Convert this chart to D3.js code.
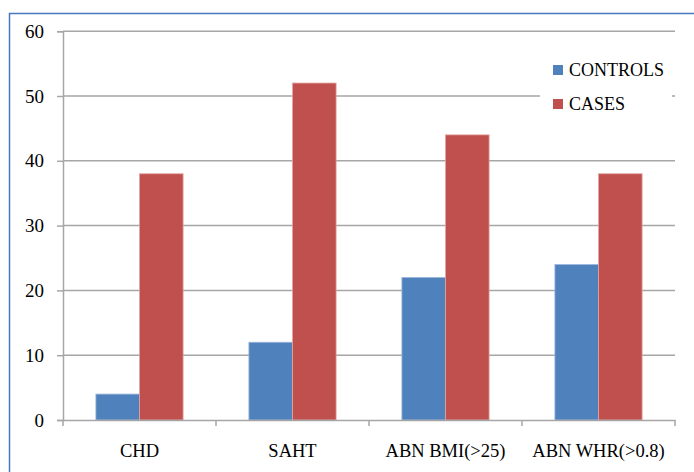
<!DOCTYPE html>
<html>
<head>
<meta charset="utf-8">
<script src="https://cdn.jsdelivr.net/npm/d3@7"></script>
<style>
  html, body { margin: 0; padding: 0; background: #fff; }
  svg { display: block; }
</style>
</head>
<body>
<div id="chart"></div>
<script>
// chart values
var categories = ["CHD", "SAHT", "ABN BMI(>25)", "ABN WHR(>0.8)"];
var seriesNames = ["CONTROLS", "CASES"];
var controls = [4, 12, 22, 24];
var cases = [38, 52, 44, 38];
var yTicks = [0, 10, 20, 30, 40, 50, 60];
var colors = ["#4F81BD", "#C0504D"];

var width = 694, height = 472;
var margin = { left: 63, right: 19, top: 31.2, bottom: 52 };
var font = "'Liberation Serif', 'DejaVu Serif', serif";

var svg = d3.select("#chart").append("svg")
    .attr("width", width)
    .attr("height", height);

// outer frame (runs off the right and bottom edges)
svg.append("rect")
    .attr("x", 9.5).attr("y", 13.5)
    .attr("width", 700).attr("height", 500)
    .attr("fill", "#fff")
    .attr("stroke", "#4A76C0")
    .attr("stroke-width", 1.5);

var x0 = d3.scaleBand()
    .domain(categories)
    .range([margin.left, width - margin.right])
    .paddingInner(0.43)
    .paddingOuter(0.215);

var x1 = d3.scaleBand()
    .domain(seriesNames)
    .range([0, x0.bandwidth()]);

var y = d3.scaleLinear()
    .domain([0, 60])
    .range([height - margin.bottom, margin.top]);

var rows = categories.map(function(c, i) {
    return { cat: c, values: [controls[i], cases[i]] };
});

// gridlines
svg.append("g")
    .selectAll("line")
    .data(yTicks.slice(1))
    .enter().append("line")
    .attr("x1", margin.left)
    .attr("x2", width - margin.right)
    .attr("y1", d => y(d))
    .attr("y2", d => y(d))
    .attr("stroke", "#A6A6A6")
    .attr("stroke-width", 1.5);

// bars
var groups = svg.append("g")
    .selectAll("g")
    .data(rows)
    .enter().append("g")
    .attr("transform", d => "translate(" + x0(d.cat) + ",0)");

groups.selectAll("rect")
    .data(d => d.values.map((v, i) => ({ name: seriesNames[i], value: v, idx: i })))
    .enter().append("rect")
    .attr("x", d => x1(d.name))
    .attr("y", d => y(d.value))
    .attr("width", x1.bandwidth())
    .attr("height", d => y(0) - y(d.value))
    .attr("fill", d => colors[d.idx])
    .attr("stroke", d => d.idx === 0 ? "#9FB8DA" : "#E2A5A3")
    .attr("stroke-width", 0.8);

// y axis
var yAxis = svg.append("g")
    .attr("transform", "translate(" + margin.left + ",0)")
    .call(d3.axisLeft(y).tickValues(yTicks).tickSize(6).tickPadding(13));
yAxis.select(".domain").attr("stroke", "#A6A6A6").attr("stroke-width", 1.5);
yAxis.selectAll(".tick line").attr("stroke", "#A6A6A6").attr("stroke-width", 1.5);
yAxis.selectAll("text")
    .attr("fill", "#000")
    .style("font-family", font)
    .style("font-size", "19px");

// x axis
var xAxis = svg.append("g")
    .attr("transform", "translate(0," + y(0) + ")")
    .call(d3.axisBottom(x0).tickSize(0).tickPadding(24));
xAxis.select(".domain").attr("stroke", "#A6A6A6").attr("stroke-width", 1.5);
xAxis.selectAll("text")
    .attr("fill", "#000")
    .style("font-family", font)
    .style("font-size", "18.5px");

// category boundary ticks
var step = x0.step();
svg.append("g")
    .selectAll("line")
    .data(d3.range(categories.length + 1))
    .enter().append("line")
    .attr("x1", i => margin.left + i * step)
    .attr("x2", i => margin.left + i * step)
    .attr("y1", y(0))
    .attr("y2", y(0) + 6)
    .attr("stroke", "#A6A6A6")
    .attr("stroke-width", 1.5);

// legend
var legend = svg.append("g");
legend.append("rect")
    .attr("x", 540).attr("y", 55)
    .attr("width", 132).attr("height", 66)
    .attr("fill", "#fff");

var items = legend.selectAll("g.item")
    .data(seriesNames)
    .enter().append("g")
    .attr("transform", (d, i) => "translate(553," + (65 + i * 34) + ")");

items.append("rect")
    .attr("width", 10).attr("height", 10)
    .attr("fill", (d, i) => colors[i]);

items.append("text")
    .attr("x", 16).attr("y", 11)
    .attr("fill", "#000")
    .style("font-family", font)
    .style("font-size", "18px")
    .text(d => d);
</script>
</body>
</html>
